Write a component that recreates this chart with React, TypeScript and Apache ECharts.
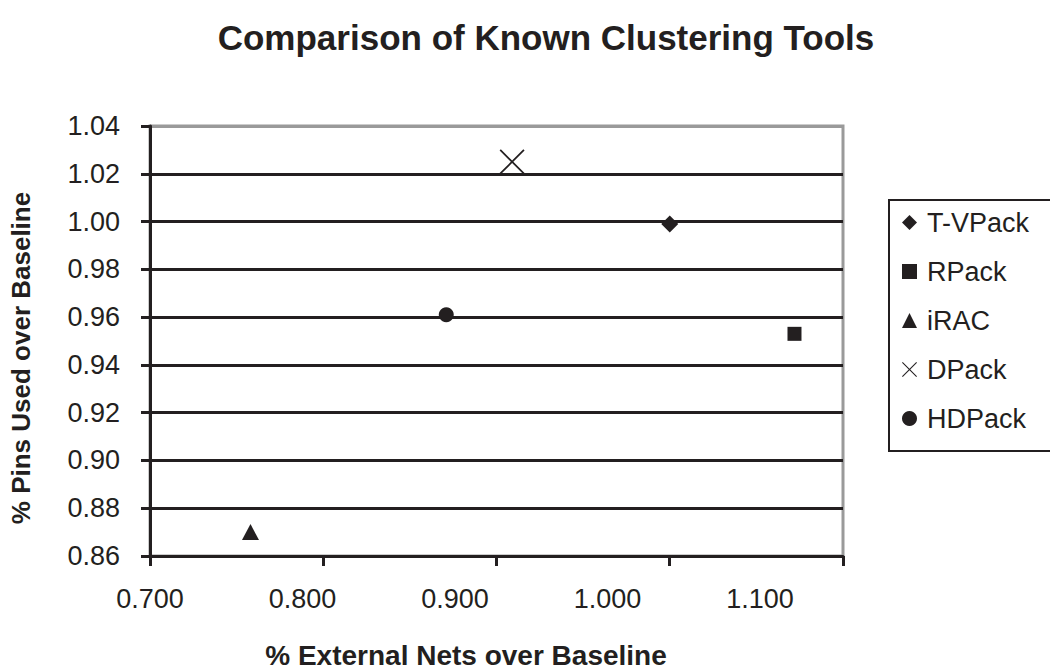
import React, { useEffect, useRef } from "react";
import * as echarts from "echarts";

const seriesNames = ["T-VPack", "RPack", "iRAC", "DPack", "HDPack"];
const seriesSymbols = ["diamond", "rect", "triangle", "cross", "circle"];
const seriesPoints: number[][] = [
  [1.0, 0.999],
  [1.072, 0.953],
  [0.758, 0.87],
  [0.909, 1.025],
  [0.871, 0.961],
];
const xTickLabels = ["0.700", "0.800", "0.900", "1.000", "1.100"];
const yTickLabels = ["0.86", "0.88", "0.90", "0.92", "0.94", "0.96", "0.98", "1.00", "1.02", "1.04"];

const INK = "#231f20";
const FONT = "'Liberation Sans', Arial, Helvetica, sans-serif";
const CROSS = "path://M0,1.2L1.2,0L12,10.8L22.8,0L24,1.2L13.2,12L24,22.8L22.8,24L12,13.2L1.2,24L0,22.8L10.8,12Z";

export default function App() {
  const ref = useRef<HTMLDivElement>(null);
  useEffect(() => {
    if (!ref.current) return;
    const chart = echarts.init(ref.current, null, { renderer: "svg" });
    const symbolFor = (s: string) => (s === "cross" ? CROSS : s);
    const sizeFor = (s: string) =>
      s === "cross" ? 25 : s === "diamond" ? [17, 17] : s === "triangle" ? [17, 16] : s === "rect" ? 14 : 15;
    const gridColors = yTickLabels.map((_, i) => (i === yTickLabels.length - 1 ? "#9a9a9a" : INK));
    chart.setOption({
      animation: false,
      backgroundColor: "#ffffff",
      title: {
        text: "Comparison of Known Clustering Tools",
        left: 541,
        top: 15,
        textAlign: "center",
        textStyle: { fontFamily: FONT, fontSize: 35, fontWeight: "bold", color: INK },
      },
      grid: {
        left: 150,
        right: 207,
        top: 126,
        bottom: 115,
        show: true,
        borderColor: "#9a9a9a",
        borderWidth: 3,
        backgroundColor: "transparent",
      },
      legend: {
        orient: "vertical",
        left: 889,
        top: 200,
        padding: [9, 100, 19, 13],
        itemGap: 22,
        itemWidth: 15,
        itemHeight: 15,
        borderColor: INK,
        borderWidth: 2,
        borderRadius: 0,
        backgroundColor: "#fff",
        textStyle: { fontFamily: FONT, fontSize: 27, color: INK, lineHeight: 27, padding: [0, 0, 0, 5] },
        data: seriesNames.map((n, i) => ({ name: n, icon: symbolFor(seriesSymbols[i]) })),
      },
      xAxis: [
        {
          type: "value",
          min: 0.7,
          max: 1.1,
          interval: 0.1,
          position: "bottom",
          axisLine: { show: true, onZero: false, lineStyle: { color: INK, width: 3 } },
          axisTick: { show: true, length: 10, lineStyle: { color: INK, width: 3 } },
          axisLabel: { show: false },
          splitLine: { show: false },
          z: 5,
        },
        {
          type: "value",
          min: 0.7,
          max: 1.1544,
          interval: 0.1,
          position: "bottom",
          axisLine: { show: false },
          axisTick: { show: false },
          splitLine: { show: false },
          axisLabel: {
            show: true,
            margin: 29,
            fontFamily: FONT,
            fontSize: 27,
            color: INK,
            showMaxLabel: false,
            formatter: (v: number) => {
              const k = Math.round((v - 0.7) / 0.1);
              if (Math.abs(v - (0.7 + k * 0.1)) > 1e-6) return "";
              return xTickLabels[k] ?? "";
            },
          },
        },
      ],
      yAxis: {
        type: "value",
        min: 0.86,
        max: 1.04,
        interval: 0.02,
        axisLine: { show: true, onZero: false, lineStyle: { color: INK, width: 3 } },
        axisTick: { show: true, length: 9, lineStyle: { color: INK, width: 3 } },
        axisLabel: {
          margin: 30,
          fontFamily: FONT,
          fontSize: 27,
          color: INK,
          formatter: (v: number) => {
            const k = Math.round((v - 0.86) / 0.02);
            return yTickLabels[k] ?? "";
          },
        },
        splitLine: { show: true, lineStyle: { color: gridColors, width: 3 } },
        z: 5,
      },
      graphic: [
        {
          type: "text",
          x: 466,
          y: 655,
          style: {
            text: "% External Nets over Baseline",
            font: `bold 28px ${FONT}`,
            fill: INK,
            align: "center",
            verticalAlign: "middle",
          },
        },
        {
          type: "text",
          x: 21,
          y: 358,
          rotation: Math.PI / 2,
          style: {
            text: "% Pins Used over Baseline",
            font: `bold 26px ${FONT}`,
            fill: INK,
            align: "center",
            verticalAlign: "middle",
          },
        },
      ],
      series: seriesNames.map((n, i) => ({
        name: n,
        type: "scatter",
        xAxisIndex: 0,
        symbol: symbolFor(seriesSymbols[i]),
        symbolSize: sizeFor(seriesSymbols[i]),
        itemStyle: { color: INK, opacity: 1 },
        data: [seriesPoints[i]],
        z: 10,
      })),
    });
    return () => chart.dispose();
  }, []);
  return (
    <div
      ref={ref}
      style={{ position: "fixed", left: 0, top: 0, width: 1050, height: 671, background: "#fff" }}
    />
  );
}
